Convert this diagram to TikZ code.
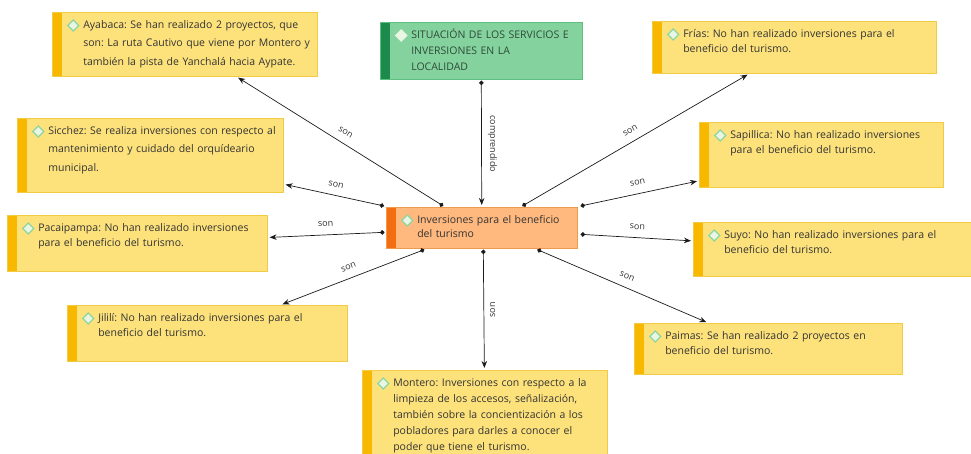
\documentclass[tikz,border=0pt]{standalone}
\usepackage{fontspec}
\setmainfont{Open Sans}
\usepackage{xcolor}
\usepackage{tikz}
\usetikzlibrary{arrows.meta,positioning,calc}
\frenchspacing

\definecolor{cardfill}{HTML}{FDE27C}
\definecolor{cardedge}{HTML}{F1CB45}
\definecolor{cardstrip}{HTML}{F9B800}
\definecolor{rootfill}{HTML}{84D39E}
\definecolor{rootedge}{HTML}{5FBF80}
\definecolor{rootstrip}{HTML}{1C8A4C}
\definecolor{roottext}{HTML}{2F4A38}
\definecolor{hubfill}{HTML}{FFB87D}
\definecolor{hubedge}{HTML}{EE9A4F}
\definecolor{hubstrip}{HTML}{F36E10}
\definecolor{gemedge}{HTML}{90D49F}
\definecolor{gemfill}{HTML}{E8F6E3}
\definecolor{ink}{HTML}{333333}
\definecolor{linkink}{HTML}{1A1A1A}

\newcommand{\gem}[1][gemedge]{\llap{\tikz[baseline=-2.8pt]\filldraw[draw=#1, fill=gemfill, line width=1.1pt] (-5.5pt,0) -- (0,5.5pt) -- (5.5pt,0) -- (0,-5.5pt) -- cycle;\hspace{4pt}}}

\begin{document}
\begin{tikzpicture}[
    x=1pt, y=-1pt,
    card/.style={rectangle, draw=cardedge, fill=cardfill, line width=0.6pt, anchor=north west,
        inner sep=0pt, text width=#1, align=left, text=ink, text height=16pt,
        font=\fontsize{10.5}{15}\selectfont,
        execute at begin node={\leftskip=31pt\rightskip=-30pt plus 1fil},
        strip=cardstrip},
    strip/.style={path picture={\fill[#1] (path picture bounding box.north west) rectangle ([xshift=10pt]path picture bounding box.south west);}},
    rootbox/.style={fill=rootfill, draw=rootedge, strip=rootstrip, text=roottext},
    hubbox/.style={fill=hubfill, draw=hubedge, strip=hubstrip},
    link/.style={draw=linkink, line width=0.7pt, {Circle[length=4.5pt]}-{Stealth[length=7pt,width=5.5pt]}, shorten >=2pt},
    lbl/.style={font=\fontsize{9}{10}\selectfont, text=ink, inner sep=1pt}
]
\useasboundingbox (0,0) rectangle (971,454);

\node[card=202, rootbox, text depth=41pt, font=\fontsize{10.5}{16}\selectfont] (root) at (380,22) {\gem[gemfill]SITUACIÓN DE LOS SERVICIOS E\\INVERSIONES EN LA\\LOCALIDAD};
\node[card=191, hubbox, text depth=25pt, font=\fontsize{10.5}{14}\selectfont] (hub) at (386,207) {\gem Inversiones para el beneficio\\del turismo};

\node[card=265, text depth=48pt, font=\fontsize{10.5}{18.5}\selectfont] (ayabaca) at (52,12) {\gem Ayabaca: Se han realizado 2 proyectos, que\\son: La ruta Cautivo que viene por Montero y\\también la pista de Yanchalá hacia Aypate.};
\node[card=266, text depth=58pt, font=\fontsize{10.5}{18.5}\selectfont] (sicchez) at (17,118) {\gem Sicchez: Se realiza inversiones con respecto al\\mantenimiento y cuidado del orquídeario\\municipal.};
\node[card=260, text depth=40pt] (pacaipampa) at (7,215) {\gem Pacaipampa: No han realizado inversiones\\para el beneficio del turismo.};
\node[card=280, text depth=40pt] (jilili) at (67,305) {\gem Jililí: No han realizado inversiones para el\\beneficio del turismo.};
\node[card=245, text depth=79pt, font=\fontsize{10.5}{16}\selectfont] (montero) at (362,370) {\gem Montero: Inversiones con respecto a la\\limpieza de los accesos, señalización,\\también sobre la concientización a los\\pobladores para darles a conocer el\\poder que tiene el turismo.};
\node[card=268, text depth=35pt] (paimas) at (634,323) {\gem Paimas: Se han realizado 2 proyectos en\\beneficio del turismo.};
\node[card=282, text depth=38pt] (suyo) at (693,222) {\gem Suyo: No han realizado inversiones para el\\beneficio del turismo.};
\node[card=244, text depth=49pt] (sapillica) at (699,122) {\gem Sapillica: No han realizado inversiones\\para el beneficio del turismo.};
\node[card=284, text depth=36pt] (frias) at (652,21) {\gem Frías: No han realizado inversiones para el\\beneficio del turismo.};

\draw[link] ([yshift=-1pt]root.south) -- node[lbl, xshift=5pt, rotate=-90, anchor=south] {comprendido} (hub);
\draw[link] ([xshift=-38.5pt,yshift=1pt]hub.north) -- node[lbl, sloped, above=7pt] {son} (ayabaca);
\draw[link] ([xshift=-2pt,yshift=1pt]hub.north west) -- node[lbl, sloped, above=7pt] {son} (sicchez);
\draw[link] ([xshift=-1.5pt,yshift=-4.5pt]hub.west) -- node[lbl, sloped, above=7pt] {son} (pacaipampa);
\draw[link] ([xshift=-57.5pt,yshift=-1pt]hub.south) -- node[lbl, sloped, above=7pt] {son} (jilili);
\draw[link] ([xshift=1.5pt,yshift=-1pt]hub.south) -- node[lbl, xshift=5pt, rotate=90, anchor=north] {son} (montero);
\draw[link] ([xshift=55.5pt,yshift=-1pt]hub.south) -- node[lbl, sloped, above=7pt] {son} (paimas);
\draw[link] ([xshift=3pt,yshift=-6.5pt]hub.east) -- node[lbl, sloped, above=7pt] {son} (suyo);
\draw[link] ([xshift=3pt,yshift=1pt]hub.north east) -- node[lbl, sloped, above=7pt] {son} (sapillica);
\draw[link] ([xshift=40.5pt,yshift=1pt]hub.north) -- node[lbl, sloped, above=7pt] {son} (frias);
\end{tikzpicture}
\end{document}
